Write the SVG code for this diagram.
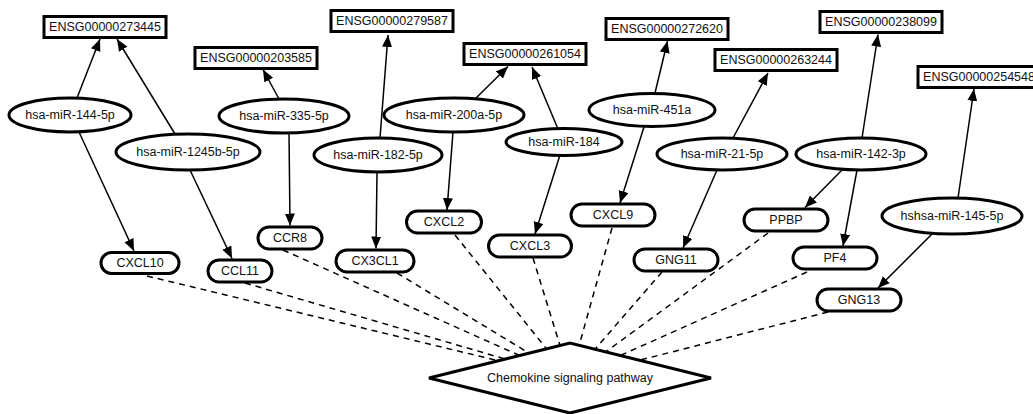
<svg xmlns="http://www.w3.org/2000/svg" width="1033" height="414" viewBox="0 0 1033 414">
  <style>
    .box { fill: #fff; stroke: #000; stroke-width: 3; }
    .lbl { font-family: "Liberation Sans", Arial, sans-serif; font-size: 12.5px; fill: #111; text-anchor: middle; dominant-baseline: central; }
    .edge { stroke: #000; stroke-width: 1.5; fill: none; marker-end: url(#arrow); }
    .link { stroke: #000; stroke-width: 1.5; fill: none; stroke-dasharray: 6 5; }
  </style>
  <defs>
    <marker id="arrow" markerUnits="userSpaceOnUse" markerWidth="13" markerHeight="11" refX="12" refY="5" orient="auto">
      <path d="M0,0 L12,5 L0,10 z" fill="#000"/>
    </marker>
  </defs>
  <rect width="1033" height="414" fill="#fff"/>

  <!-- connectors -->
  <g id="connectors">
    <!-- pathway membership (dashed) -->
    <line class="link" x1="147" y1="276" x2="570" y2="378"/>
    <line class="link" x1="245" y1="283" x2="570" y2="378"/>
    <line class="link" x1="283" y1="250" x2="570" y2="378"/>
    <line class="link" x1="397" y1="273" x2="570" y2="378"/>
    <line class="link" x1="455" y1="235" x2="570" y2="378"/>
    <line class="link" x1="533" y1="258" x2="570" y2="378"/>
    <line class="link" x1="612" y1="228" x2="570" y2="378"/>
    <line class="link" x1="662" y1="272" x2="570" y2="378"/>
    <line class="link" x1="768" y1="233" x2="570" y2="378"/>
    <line class="link" x1="807" y1="272" x2="570" y2="378"/>
    <line class="link" x1="828" y1="312" x2="570" y2="378"/>
    <!-- miRNA targets (solid arrows) -->
    <line class="edge" x1="77" y1="98" x2="100" y2="39"/>
    <line class="edge" x1="175" y1="134" x2="117" y2="39"/>
    <line class="edge" x1="79" y1="132" x2="134" y2="251"/>
    <line class="edge" x1="190" y1="170" x2="232" y2="258.5"/>
    <line class="edge" x1="279" y1="99" x2="263" y2="69.5"/>
    <line class="edge" x1="289" y1="133" x2="290" y2="225.5"/>
    <line class="edge" x1="380" y1="138" x2="388" y2="35"/>
    <line class="edge" x1="377" y1="172" x2="376" y2="248.5"/>
    <line class="edge" x1="475" y1="99" x2="508" y2="66.5"/>
    <line class="edge" x1="453" y1="132" x2="447" y2="210"/>
    <line class="edge" x1="558" y1="129" x2="532" y2="67"/>
    <line class="edge" x1="560" y1="155" x2="535" y2="234"/>
    <line class="edge" x1="655" y1="93" x2="667.5" y2="41"/>
    <line class="edge" x1="644" y1="127" x2="620" y2="203"/>
    <line class="edge" x1="733" y1="138" x2="768" y2="73"/>
    <line class="edge" x1="717" y1="170" x2="683" y2="248"/>
    <line class="edge" x1="862" y1="138" x2="878" y2="34.5"/>
    <line class="edge" x1="843" y1="169" x2="805" y2="207.5"/>
    <line class="edge" x1="857" y1="170" x2="843" y2="246"/>
    <line class="edge" x1="958" y1="198" x2="974" y2="89"/>
    <line class="edge" x1="934" y1="232" x2="878" y2="288"/>
  </g>

  <!-- pathway -->
  <g id="pathway">
    <polygon class="box" points="429,378 570,343 711,378 570,413"/>
    <text class="lbl" x="570" y="378">Chemokine signaling pathway</text>
  </g>

  <!-- gene loci -->
  <g id="ENSG00000273445"><rect class="box" x="44" y="16.5" width="122" height="21"/><text class="lbl" x="105" y="27">ENSG00000273445</text></g>
  <g id="ENSG00000203585"><rect class="box" x="195" y="47.5" width="122" height="21"/><text class="lbl" x="256" y="58">ENSG00000203585</text></g>
  <g id="ENSG00000279587"><rect class="box" x="331" y="10.5" width="122" height="21"/><text class="lbl" x="392" y="21">ENSG00000279587</text></g>
  <g id="ENSG00000261054"><rect class="box" x="464" y="43.5" width="122" height="21"/><text class="lbl" x="525" y="54">ENSG00000261054</text></g>
  <g id="ENSG00000272620"><rect class="box" x="606" y="18.5" width="122" height="21"/><text class="lbl" x="667" y="29">ENSG00000272620</text></g>
  <g id="ENSG00000263244"><rect class="box" x="715" y="49.5" width="122" height="21"/><text class="lbl" x="776" y="60">ENSG00000263244</text></g>
  <g id="ENSG00000238099"><rect class="box" x="820" y="11.5" width="122" height="21"/><text class="lbl" x="881" y="22">ENSG00000238099</text></g>
  <g id="ENSG00000254548"><rect class="box" x="918" y="66.5" width="122" height="21"/><text class="lbl" x="979" y="77">ENSG00000254548</text></g>

  <!-- miRNAs -->
  <g id="hsa-miR-144-5p"><ellipse class="box" cx="70" cy="115" rx="61" ry="17"/><text class="lbl" x="70" y="115">hsa-miR-144-5p</text></g>
  <g id="hsa-miR-1245b-5p"><ellipse class="box" cx="188" cy="152" rx="72" ry="18"/><text class="lbl" x="188" y="152">hsa-miR-1245b-5p</text></g>
  <g id="hsa-miR-335-5p"><ellipse class="box" cx="284" cy="116" rx="65" ry="17"/><text class="lbl" x="284" y="116">hsa-miR-335-5p</text></g>
  <g id="hsa-miR-182-5p"><ellipse class="box" cx="378" cy="155" rx="64" ry="17"/><text class="lbl" x="378" y="155">hsa-miR-182-5p</text></g>
  <g id="hsa-miR-200a-5p"><ellipse class="box" cx="454" cy="115" rx="70" ry="17"/><text class="lbl" x="454" y="115">hsa-miR-200a-5p</text></g>
  <g id="hsa-miR-184"><ellipse class="box" cx="564" cy="142" rx="58" ry="13.5"/><text class="lbl" x="564" y="142">hsa-miR-184</text></g>
  <g id="hsa-miR-451a"><ellipse class="box" cx="652" cy="110" rx="63" ry="16.5"/><text class="lbl" x="652" y="110">hsa-miR-451a</text></g>
  <g id="hsa-miR-21-5p"><ellipse class="box" cx="722" cy="154" rx="65" ry="16"/><text class="lbl" x="722" y="154">hsa-miR-21-5p</text></g>
  <g id="hsa-miR-142-3p"><ellipse class="box" cx="861" cy="154" rx="65" ry="16"/><text class="lbl" x="861" y="154">hsa-miR-142-3p</text></g>
  <g id="hshsa-miR-145-5p"><ellipse class="box" cx="952" cy="216" rx="70" ry="18"/><text class="lbl" x="952" y="216">hshsa-miR-145-5p</text></g>

  <!-- pathway genes -->
  <g id="CXCL10"><rect class="box" x="101" y="252.5" width="78" height="21" rx="10.5"/><text class="lbl" x="140" y="263">CXCL10</text></g>
  <g id="CCL11"><rect class="box" x="208" y="260" width="64" height="22" rx="11"/><text class="lbl" x="240" y="271">CCL11</text></g>
  <g id="CCR8"><rect class="box" x="258" y="227" width="64" height="22" rx="11"/><text class="lbl" x="290" y="238">CCR8</text></g>
  <g id="CX3CL1"><rect class="box" x="336" y="250" width="78" height="22" rx="11"/><text class="lbl" x="375" y="261">CX3CL1</text></g>
  <g id="CXCL2"><rect class="box" x="406.5" y="211" width="75" height="22" rx="11"/><text class="lbl" x="444" y="222">CXCL2</text></g>
  <g id="CXCL3"><rect class="box" x="488.5" y="235" width="83" height="22" rx="11"/><text class="lbl" x="530" y="246">CXCL3</text></g>
  <g id="CXCL9"><rect class="box" x="571" y="204" width="84" height="22" rx="11"/><text class="lbl" x="613" y="215">CXCL9</text></g>
  <g id="GNG11"><rect class="box" x="634" y="249" width="84" height="22" rx="11"/><text class="lbl" x="676" y="260">GNG11</text></g>
  <g id="PPBP"><rect class="box" x="744" y="209" width="84" height="22" rx="11"/><text class="lbl" x="786" y="220">PPBP</text></g>
  <g id="PF4"><rect class="box" x="793" y="247" width="84" height="22" rx="11"/><text class="lbl" x="835" y="258">PF4</text></g>
  <g id="GNG13"><rect class="box" x="817" y="289" width="84" height="22" rx="11"/><text class="lbl" x="859" y="300">GNG13</text></g>
</svg>
